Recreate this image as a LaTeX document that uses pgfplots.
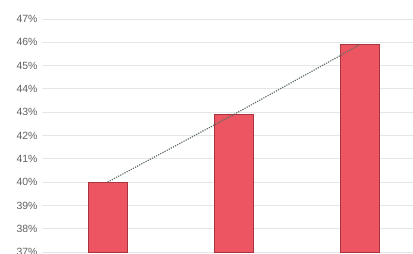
\documentclass[border=0pt]{standalone}
\usepackage{pgfplots}
\pgfplotsset{compat=1.18}
\usepackage{fontspec}
\setmainfont{Liberation Sans}
\definecolor{barfill}{HTML}{EC5561}
\definecolor{baredge}{HTML}{A8343F}
\definecolor{gridc}{HTML}{E6E6E6}
\definecolor{tickc}{HTML}{606060}
\definecolor{linec}{HTML}{5E6E60}
\begin{document}
\begin{tikzpicture}
\useasboundingbox (-42bp,-2bp) rectangle (371bp,252bp);
\begin{axis}[
  at={(0,0)}, anchor=south west,
  scale only axis, width=371bp, height=233bp,
  xmin=-0.52, xmax=2.42, ymin=37, ymax=47,
  axis line style={draw=none},
  xtick=\empty,
  ytick={37,38,...,47},
  yticklabel={\pgfmathprintnumber{\tick}\%},
  /pgf/number format/assume math mode=true,
  yticklabel style={font=\fontsize{10.5}{12}\selectfont, text=tickc, xshift=-1bp},
  major tick length=0pt,
  ymajorgrids, grid style={gridc, line width=0.8pt},
  clip=false,
]
\addplot[ybar, bar width=0.31, fill=barfill, draw=baredge, line width=0.7pt]
  coordinates {(0,40) (1,42.9) (2,45.9)};
\addplot[linec, dash pattern=on 1.2pt off 1.2pt, line width=1.2pt, mark=none]
  coordinates {(0,40) (1,42.9) (2,45.9)};
\end{axis}
\end{tikzpicture}
\end{document}
